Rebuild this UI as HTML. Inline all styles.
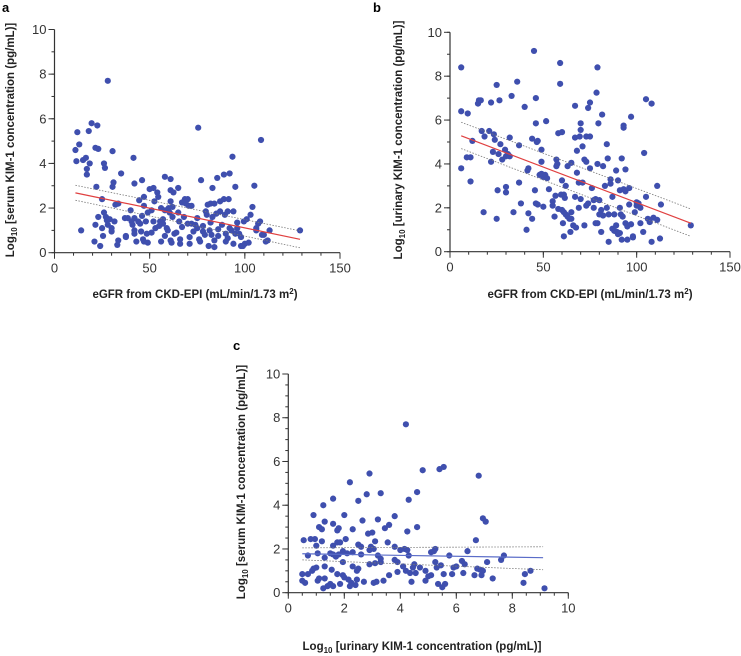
<!DOCTYPE html>
<html><head><meta charset="utf-8"><style>
body{margin:0;background:#fff;}
svg{display:block;font-family:"Liberation Sans",sans-serif;}
</style></head><body>
<svg id="fig" width="741" height="656" viewBox="0 0 741 656">
<text x="2" y="12" font-weight="bold" font-size="13">a</text>
<text x="373" y="12" font-weight="bold" font-size="13">b</text>
<text x="233" y="350" font-weight="bold" font-size="13">c</text>
</svg>
<script>
const aX=[11,11.5,12,13,14,15,16.5,17,17,18,18.5,19.5,21,21.5,21.5,22,22.5,23,23,24,25,25,25.5,26,26,26.5,27,27.5,28,28,29,30,30,30.5,30.5,31,31.5,32,33,33.5,33.5,35,37,37.5,37.5,38.5,40,40.5,41,42,41.5,42,42,42,43,44,44.5,45,45.5,46,46,46.5,47,47,47,48,48.5,49,49,50,51,51,52,52,52.5,53,54,54.5,55,55.5,56,56,57,57,58,58,58,59,59.5,60,60.5,61,61,61,61,61.5,62,62,62.5,63,64,65,65,65.5,66,66,67,67,68,68.5,69,70,70,70.5,71,71,72,72,73,74,75,75,75.5,76,76.5,77,78,78,79,79.5,80,80.5,81,81.5,82,82,82.5,83,83,84,84,84,85,85.5,86,86,87,87,88,89,89,89.5,90,90,91,91,91.5,92,92,93,93.5,94,94,95,95,96,96,97,98,98,99,99.5,100,101,102,103,104,105,106,106,107,108.5,108,109,110,111,112,113,129];
const aY=[4.6,4.1,5.4,4.85,1.0,4.15,4.25,3.75,3.5,5.45,4.0,5.8,0.5,1.25,4.7,2.95,5.7,4.65,1.6,0.3,2.4,1.1,0.75,4.0,1.8,3.8,1.6,1.45,7.7,1.25,1.5,1.1,0.95,4.55,2.95,3.15,1.4,2.15,0.35,2.2,0.55,3.55,1.55,0.75,0.7,1.55,1.9,1.4,1.25,3.1,4.25,1.55,1.0,0.85,0.5,1.4,2.35,1.3,0.95,3.25,1.65,0.6,0.5,2.5,2.1,1.4,0.85,1.8,0.45,2.85,1.9,0.9,2.9,1.4,2.3,1.1,2.7,2.5,1.2,1.4,0.5,2.0,1.5,1.3,3.4,1.9,0.75,1.1,1.0,2.0,1.8,3.3,2.8,2.3,0.55,0.45,1.6,2.05,2.7,0.85,0.9,2.9,1.8,1.4,0.6,0.4,1.15,2.25,1.6,2.4,2.2,2.4,1.3,2.1,0.7,0.4,1.3,2.1,0.95,1.25,1.55,1.1,5.6,0.6,0.5,3.25,1.2,0.95,0.8,1.85,1.7,2.15,0.3,1.0,2.2,1.35,0.8,2.9,1.6,0.25,0.55,2.2,1.75,3.35,1.05,0.75,1.85,2.3,1.25,3.5,2.4,1.7,0.85,0.5,1.85,0.65,2.4,3.55,1.1,1.0,4.3,1.85,0.4,2.95,0.85,1.35,1.1,0.85,0.3,0.7,0.3,1.4,0.4,1.5,0.45,1.7,2.05,3.0,1.0,1.1,1.3,5.05,1.4,0.8,0.8,0.5,0.55,1.0,1.0];
const aFitX=[11,129], aFit=[2.68,0.6], aUp=[3.02,0.98], aLo=[2.35,0.22];

const bX=[6,6,6,9,9.5,11,11,12,15,15.5,16.5,17,18,18.5,21,22,22,23,23.5,24,25,25,25.5,26,26.5,27,28,29.5,30,30,30,31,32,32,33,34,36,37,37,38,40,41,41.5,42,42,44,44,45,45.5,46,46,46,46.5,47,47,48,49,49,49,50,50,51,51.5,52,53,55,55,56,56.5,57,57,57.5,58,58,59,59,59.5,60,60,60,60.5,61,61,61,61.5,62,62,63,63,64,64.5,65,65,65,66,67,67,67,67.5,68,68,69,69,69.5,70,70,70,71,71,72,72,73,73,73,74,74,75,75,75,76,77,77,78,78,78.5,79,79,79,79.5,80,80,81,81,81.5,82,82,83,84,84,84.5,85,85,86,86,87,87,88,88,89,89,89.5,90,90,91,91,91,91.5,92,92,92.5,93,93,93,94,94,94,95,95,96,96,97,97,98,98,99,100,100,101,102,102,103.5,104,105,105,106,107,108,108,109,111,111,112.5,113,129];
const bY=[8.4,6.4,3.8,4.3,6.3,3.2,4.3,5.05,6.75,6.9,6.9,5.5,1.8,5.25,5.5,4.1,6.8,4.55,5.35,5.1,7.6,1.5,2.8,4.45,6.9,4.9,4.2,4.65,2.7,2.95,4.35,4.45,4.35,5.2,7.1,1.8,7.75,4.85,3.15,2.2,6.6,1.0,3.7,1.75,3.8,1.5,5.15,9.15,2.8,2.2,7.0,5.85,5.0,2.15,5.05,3.5,4.1,3.55,4.65,3.4,2.05,3.5,5.95,3.35,2.85,2.3,2.1,1.6,2.55,3.9,4.2,4.0,1.95,5.4,8.6,7.65,2.6,5.45,3.25,1.9,1.3,0.7,2.6,1.8,2.45,3.0,1.7,1.6,3.9,1.5,0.9,1.5,1.8,4.05,1.2,6.65,5.2,2.5,1.1,3.6,4.6,3.15,2.0,5.25,5.85,5.55,2.4,4.8,3.15,1.2,4.2,4.1,2.1,5.25,6.55,2.2,5.25,6.8,3.8,2.9,2.0,2.35,2.4,1.3,7.25,8.4,4.0,1.3,5.85,1.7,2.35,1.9,0.9,6.25,3.9,1.65,3.0,4.9,2.0,4.25,0.45,1.7,3.3,3.1,1.05,2.5,0.95,1.7,3.7,1.2,0.9,0.8,3.25,2.0,2.8,0.85,1.7,4.25,0.55,1.6,5.75,5.65,2.85,3.75,2.75,1.3,1.15,0.55,2.9,2.15,6.15,1.25,0.65,0.7,1.8,2.25,2.1,2.2,1.3,2.0,0.9,4.5,2.5,6.95,1.5,1.35,0.45,6.75,1.55,3.0,1.45,0.6,2.15,1.2];
const bFitX=[6,129], bFit=[5.28,1.3], bUp=[5.9,1.95], bLo=[4.7,0.7];

const cX=[4.2,4.8,5.4,5.55,6.8,2.9,2.2,4.6,3.3,2.8,4.3,2.5,1.6,1.25,0.9,2.0,1.3,1.6,2.65,3.2,3.8,3.6,3.45,4.6,4.25,6.95,7.05,6.7,1.1,1.2,2.3,1.75,1.8,2.85,3.0,0.55,0.8,0.95,1.2,2.05,1.75,1.85,2.5,3.1,3.55,1.0,1.6,2.6,2.95,3.05,3.8,4.0,4.15,4.25,6.4,5.1,5.2,5.25,0.7,1.05,1.3,1.5,1.6,1.7,1.8,1.95,2.1,2.3,2.6,2.9,3.2,3.3,3.8,3.9,4.3,4.5,5.25,5.75,6.2,6.3,7.1,7.6,7.7,1.3,1.55,1.95,2.3,2.5,2.45,2.9,3.1,3.3,4.1,4.2,4.45,4.7,4.9,5.3,5.45,5.9,6.0,6.75,6.85,6.95,0.5,0.7,0.85,1.0,1.75,1.95,2.0,2.15,2.45,3.6,3.9,4.35,4.55,5.0,5.1,5.55,5.85,6.25,6.65,6.9,7.3,8.45,8.65,0.5,0.6,1.05,1.1,1.3,1.5,1.6,1.85,2.2,2.4,2.7,3.05,3.4,3.15,4.4,4.9,5.35,5.5,5.6,8.4,9.15,1.25,2.25,0.9,1.4];
const cY=[7.7,5.6,5.65,5.75,5.35,5.45,5.05,4.6,4.55,4.5,4.25,4.2,4.3,4.0,3.55,3.55,3.25,3.15,3.3,3.35,3.5,3.1,2.95,3.0,2.8,3.4,3.25,2.4,3.0,2.9,2.9,2.85,2.95,2.7,2.75,2.4,2.45,2.45,2.35,2.45,2.3,2.3,2.2,2.35,2.3,2.15,2.15,2.1,2.1,2.0,2.1,1.95,2.0,1.95,1.9,1.85,1.9,2.0,1.7,1.8,1.6,1.8,1.75,1.65,1.75,1.9,1.8,1.85,1.75,1.95,1.7,1.55,1.5,1.4,1.7,1.3,1.4,1.7,1.45,1.3,1.4,1.5,1.7,1.2,1.05,1.4,1.2,1.1,1.0,1.3,1.35,1.4,1.2,1.0,1.15,1.15,1.0,1.15,1.25,1.15,1.2,1.1,1.05,1.0,0.85,0.85,1.0,1.15,0.85,0.8,0.7,0.6,0.6,0.8,0.95,0.9,0.9,0.75,0.8,0.85,0.85,0.9,0.8,0.8,0.65,0.85,1.0,0.55,0.45,0.55,0.65,0.65,0.4,0.3,0.4,0.3,0.35,0.5,0.45,0.55,0.5,0.5,0.55,0.4,0.25,0.4,0.45,0.2,0.2,0.45,1.1,0.3];
const cFitX=[0.5,9.1], cFit=[1.78,1.6], cUp=[2.05,2.1], cLo=[1.5,1.05];

const xTicksAB=[0,50,100,150], yTicks=[0,2,4,6,8,10], xTicksC=[0,2,4,6,8,10];

const NS="http://www.w3.org/2000/svg";
const svg=document.getElementById('fig');
function mk(tag,attrs,parent){const e=document.createElementNS(NS,tag);for(const k in attrs)e.setAttribute(k,attrs[k]);(parent||svg).appendChild(e);return e;}

function panel(p){
  const g=mk('g',{});
  
  
  const sx=v=>p.x0+(v-p.xmin)/(p.xmax-p.xmin)*(p.x1-p.x0);
  const sy=v=>p.y0-(v/10)*(p.y0-p.y1);
  // axes
  const ax=mk('line',{x1:p.x0,y1:p.y0,x2:p.x1,y2:p.y0,stroke:'#333','stroke-width':1.2},g);
  
  const ay=mk('line',{x1:p.x0,y1:p.y0,x2:p.x0,y2:p.y1,stroke:'#333','stroke-width':1.2},g);
  
  for(let v=p.xmin;v<=p.xmax+1e-9;v+=p.xminor){mk('line',{x1:sx(v),y1:p.y0,x2:sx(v),y2:p.y0+3,stroke:'#333'},g);}
  for(let v=0;v<=10+1e-9;v+=p.yminor){mk('line',{x1:p.x0,y1:sy(v),x2:p.x0-3,y2:sy(v),stroke:'#333'},g);}
  p.xt.forEach(v=>{mk('line',{x1:sx(v),y1:p.y0,x2:sx(v),y2:p.y0+6,stroke:'#333'},g);
    const t=mk('text',{x:sx(v),y:p.y0+20,'text-anchor':'middle','font-size':13,fill:'#333'},g);t.textContent=v;
    });
  yTicks.forEach(v=>{mk('line',{x1:p.x0,y1:sy(v),x2:p.x0-6,y2:sy(v),stroke:'#333'},g);
    const t=mk('text',{x:p.x0-8,y:sy(v)+4.5,'text-anchor':'end','font-size':13,fill:'#333'},g);t.textContent=v;
    });
  // points
  p.X.forEach((v,i)=>{const c=mk('circle',{cx:sx(v),cy:sy(p.Y[i]),r:3.1,fill:'#3f4fae'},g);
    });
  // fit + CI
  const ln=(arr,attrs,name)=>{const l=mk('line',Object.assign({x1:sx(p.fx[0]),y1:sy(arr[0]),x2:sx(p.fx[1]),y2:sy(arr[1])},attrs),g);
    };
  ln(p.up,{stroke:'#777','stroke-width':0.8,'stroke-dasharray':'1.5,1.5'},p.id+'-ci-upper');
  ln(p.lo,{stroke:'#777','stroke-width':0.8,'stroke-dasharray':'1.5,1.5'},p.id+'-ci-lower');
  ln(p.fit,{stroke:p.fitColor,'stroke-width':1.2},p.id+'-regression-line');
  // titles
  const xt=mk('text',{x:p.xtx,y:p.xty,'text-anchor':'middle','font-size':11.5,'font-weight':'bold',fill:'#222'},g);
  xt.innerHTML=p.xtitle;
  const yt=mk('text',{x:0,y:0,transform:`translate(${p.ytx},${p.yty}) rotate(-90)`,'text-anchor':'middle','font-size':11.5,'font-weight':'bold',fill:'#222'},g);
  yt.innerHTML=p.ytitle;
}
const log='Log<tspan font-size="8" dy="3">10</tspan><tspan dy="-3"> </tspan>';
panel({id:'panel-a',X:aX,Y:aY,fx:aFitX,fit:aFit,up:aUp,lo:aLo,fitColor:'#e04040',x0:54.5,x1:340,y0:252.7,y1:29.5,xmin:0,xmax:150,xminor:10,yminor:1,xt:xTicksAB,
  xtitle:'eGFR from CKD-EPI (mL/min/1.73 m<tspan font-size="8" dy="-4">2</tspan><tspan dy="4">)</tspan>',xtx:195,xty:298,ytitle:log+'[serum KIM-1 concentration (pg/mL)]',ytx:14,yty:140});
panel({id:'panel-b',X:bX,Y:bY,fx:bFitX,fit:bFit,up:bUp,lo:bLo,fitColor:'#e04040',x0:450,x1:730,y0:251.7,y1:32.3,xmin:0,xmax:150,xminor:10,yminor:1,xt:xTicksAB,
  xtitle:'eGFR from CKD-EPI (mL/min/1.73 m<tspan font-size="8" dy="-4">2</tspan><tspan dy="4">)</tspan>',xtx:590,xty:298,ytitle:log+'[urinary KIM-1 concentration (pg/mL)]',ytx:402,yty:140});
panel({id:'panel-c',X:cX,Y:cY,fx:cFitX,fit:cFit,up:cUp,lo:cLo,fitColor:'#5a6cc8',x0:288.3,x1:568.3,y0:592.7,y1:374,xmin:0,xmax:10,xminor:0.5,yminor:0.5,xt:xTicksC,
  xtitle:log+'[urinary KIM-1 concentration (pg/mL)]',xtx:422,xty:650,ytitle:log+'[serum KIM-1 concentration (pg/mL)]',ytx:245,yty:482});
</script>
</body></html>
